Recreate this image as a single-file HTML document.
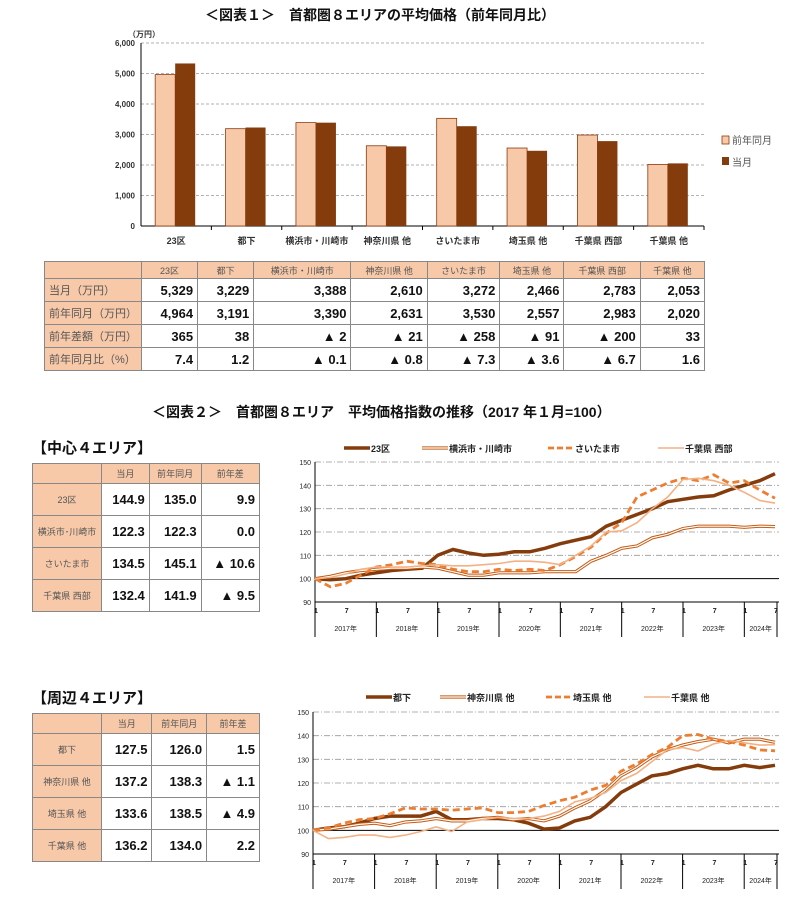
<!DOCTYPE html>
<html><head><meta charset="utf-8">
<style>
body{margin:0;width:790px;height:903px;background:#fff;font-family:"Liberation Sans","Noto Sans CJK JP",sans-serif;position:relative;overflow:hidden}
.abs{position:absolute}
.title{font-size:14px;font-weight:bold;color:#111;white-space:nowrap}
table{border-collapse:collapse;position:absolute;font-family:"Liberation Sans","Noto Sans CJK JP",sans-serif}
td{border:1px solid #888;padding:0 4px;white-space:nowrap}
.h{background:#f7c9a9;color:#555;font-size:9px;text-align:center}
.n{text-align:right;font-weight:bold;color:#111}
</style></head><body>
<div class="abs title" style="left:205px;top:5px">＜図表１＞　首都圏８エリアの平均価格（前年同月比）</div>
<svg class="abs" style="left:0;top:0" width="790" height="260" id="bar"></svg>
<table style="left:44px;top:261px;width:661px">
<tr style="height:17px"><td class="h" style="width:88px"></td><td class="h">23区</td><td class="h">都下</td><td class="h">横浜市・川崎市</td><td class="h">神奈川県 他</td><td class="h">さいたま市</td><td class="h">埼玉県 他</td><td class="h">千葉県 西部</td><td class="h">千葉県 他</td></tr>
<tr style="height:23px;font-size:13px"><td class="h" style="text-align:left;font-size:11px">当月（万円）</td><td class="n">5,329</td><td class="n">3,229</td><td class="n">3,388</td><td class="n">2,610</td><td class="n">3,272</td><td class="n">2,466</td><td class="n">2,783</td><td class="n">2,053</td></tr>
<tr style="height:23px;font-size:13px"><td class="h" style="text-align:left;font-size:11px">前年同月（万円）</td><td class="n">4,964</td><td class="n">3,191</td><td class="n">3,390</td><td class="n">2,631</td><td class="n">3,530</td><td class="n">2,557</td><td class="n">2,983</td><td class="n">2,020</td></tr>
<tr style="height:23px;font-size:13px"><td class="h" style="text-align:left;font-size:11px">前年差額（万円）</td><td class="n">365</td><td class="n">38</td><td class="n">▲ 2</td><td class="n">▲ 21</td><td class="n">▲ 258</td><td class="n">▲ 91</td><td class="n">▲ 200</td><td class="n">33</td></tr>
<tr style="height:23px;font-size:13px"><td class="h" style="text-align:left;font-size:11px">前年同月比（%）</td><td class="n">7.4</td><td class="n">1.2</td><td class="n">▲ 0.1</td><td class="n">▲ 0.8</td><td class="n">▲ 7.3</td><td class="n">▲ 3.6</td><td class="n">▲ 6.7</td><td class="n">1.6</td></tr>
</table>
<div class="abs title" style="left:152px;top:402px">＜図表２＞　首都圏８エリア　平均価格指数の推移（2017 年１月=100）</div>
<div class="abs title" style="left:32px;top:437px;font-size:15px">【中心４エリア】</div>
<table style="left:32px;top:463px;width:228px">
<tr style="height:20px"><td class="h" style="width:60px"></td><td class="h">当月</td><td class="h">前年同月</td><td class="h">前年差</td></tr>
<tr style="height:32px;font-size:13px"><td class="h">23区</td><td class="n">144.9</td><td class="n">135.0</td><td class="n">9.9</td></tr>
<tr style="height:32px;font-size:13px"><td class="h">横浜市･川崎市</td><td class="n">122.3</td><td class="n">122.3</td><td class="n">0.0</td></tr>
<tr style="height:32px;font-size:13px"><td class="h">さいたま市</td><td class="n">134.5</td><td class="n">145.1</td><td class="n">▲ 10.6</td></tr>
<tr style="height:32px;font-size:13px"><td class="h">千葉県 西部</td><td class="n">132.4</td><td class="n">141.9</td><td class="n">▲ 9.5</td></tr>
</table>
<div class="abs title" style="left:32px;top:687px;font-size:15px">【周辺４エリア】</div>
<table style="left:32px;top:713px;width:228px">
<tr style="height:20px"><td class="h" style="width:60px"></td><td class="h">当月</td><td class="h">前年同月</td><td class="h">前年差</td></tr>
<tr style="height:32px;font-size:13px"><td class="h">都下</td><td class="n">127.5</td><td class="n">126.0</td><td class="n">1.5</td></tr>
<tr style="height:32px;font-size:13px"><td class="h">神奈川県 他</td><td class="n">137.2</td><td class="n">138.3</td><td class="n">▲ 1.1</td></tr>
<tr style="height:32px;font-size:13px"><td class="h">埼玉県 他</td><td class="n">133.6</td><td class="n">138.5</td><td class="n">▲ 4.9</td></tr>
<tr style="height:32px;font-size:13px"><td class="h">千葉県 他</td><td class="n">136.2</td><td class="n">134.0</td><td class="n">2.2</td></tr>
</table>
<svg class="abs" style="left:0;top:0" width="790" height="903" id="lines"></svg>
<script>
// ---- bar chart data ----
const barCategories=["23区","都下","横浜市・川崎市","神奈川県 他","さいたま市","埼玉県 他","千葉県 西部","千葉県 他"];
const prevYear=[4964,3191,3390,2631,3530,2557,2983,2020];
const current=[5329,3229,3388,2610,3272,2466,2783,2053];
const barTicks=[0,1000,2000,3000,4000,5000,6000];
const barTickLabels=["0","1,000","2,000","3,000","4,000","5,000","6,000"];
// ---- line chart data (every 3 months, Jan 2017 – Jul 2024) ----
const monthStep=3;
const yearLabels=["2017年","2018年","2019年","2020年","2021年","2022年","2023年","2024年"];
const lineTicks=[90,100,110,120,130,140,150];
const centerNames=["23区","横浜市・川崎市","さいたま市","千葉県 西部"];
const s23ku=[100,99.5,100,101.5,102.5,103.5,104,104.5,110,112.5,111,110,110.5,111.5,111.5,113,115,116.5,118,122.5,125,127.5,130,133,134,135,135.5,138,140,142,145];
const sYokohama=[100,101,102.5,103.5,104,104.5,104.5,105,104.5,103,101.5,101.5,102.5,102.5,102.5,103,103,103,107.5,110,113,114,117.5,119,121.5,122.5,122.5,122.5,122,122.5,122.3];
const sSaitamaCity=[100,96.5,98,101.5,105,106,107.5,106.5,106,104,103,103,104,103.5,104,103.5,106,109.5,113.5,119.5,124,135,138,141,143,142,144.5,141,142,138,134.5];
const sChibaWest=[100,100.5,102,104,105,105,105,105.5,106,105.5,105.5,106,106.5,107.5,107.5,107,106,110,114,120,120.5,124,130,135,142.5,143,142,140,137,133.5,132.4];
const outerNames=["都下","神奈川県 他","埼玉県 他","千葉県 他"];
const sToka=[100,101,101.5,103,105,106,106,106,108,104.5,104.5,105,105,104.5,103,100.5,101,104,105.5,110,116,119.5,123,124,126,127.5,126,126,127.5,126.5,127.5];
const sKanagawa=[100,100.5,101.5,102.5,103,102,103.5,104,105,104,104,105,105.5,104.5,105,104,106,109.5,112.5,117,123,126.5,131,134,136,137.5,138.5,137,138.5,138.5,137.2];
const sSaitamaOther=[100,101,103,104.5,105,107,109.5,109,109,108.5,109,109.5,107.5,107.5,108,110.5,112.5,114,117,119,125,128,132,135,140,140.5,138.5,137.5,136,134,133.6];
const sChibaOther=[100,96.5,97,98,98,97,98,99.5,101.5,99.5,103.5,104.5,105.5,105,105,106,108,112,113.5,116,121,124,129,134,135,133.5,136.5,138,137,136,136.2];

const NS="http://www.w3.org/2000/svg";
function mk(parent,tag,attrs,txt){const e=document.createElementNS(NS,tag);for(const k in attrs)e.setAttribute(k,attrs[k]);if(txt!==undefined)e.textContent=txt;parent.appendChild(e);return e;}

// bar chart
(function(){
 const svg=document.getElementById('bar');
 const x0=141,x1=704,y0=226,y1=43,maxV=6000;
 const yS=v=>y0-(v/maxV)*(y0-y1);
 const cw=(x1-x0)/barCategories.length;
 let t=mk(svg,'text',{x:128,y:37,'font-size':8,'font-weight':'bold',fill:'#333'},'（万円）');
 
 barTicks.forEach((v,i)=>{
  if(v>0){const g=mk(svg,'line',{x1:x0,x2:x1,y1:yS(v),y2:yS(v),stroke:'#999','stroke-dasharray':'3,2','stroke-width':0.8});}
  const l=mk(svg,'text',{x:x0-6,y:yS(v)+3,'font-size':8,'text-anchor':'end',fill:'#333','font-weight':'bold'},barTickLabels[i]);
  
 });
 mk(svg,'line',{x1:x0,x2:x0,y1:y1,y2:y0,stroke:'#000'});
 mk(svg,'line',{x1:x0,x2:x1,y1:y0,y2:y0,stroke:'#000'});
 barCategories.forEach((c,i)=>{
  const cx=x0+cw*(i+0.5);
  const bw=20;
  const b1=mk(svg,'rect',{x:cx-bw-1,y:yS(prevYear[i]),width:bw,height:y0-yS(prevYear[i]),fill:'#f8c9a8',stroke:'#8b3a0e','stroke-width':0.8});
  
  const b2=mk(svg,'rect',{x:cx-1,y:yS(current[i]),width:bw,height:y0-yS(current[i]),fill:'#843c0c'});
  
  mk(svg,'line',{x1:x0+cw*(i+1),x2:x0+cw*(i+1),y1:y0,y2:y0+4,stroke:'#000'});
  const l=mk(svg,'text',{x:cx,y:y0+18,'font-size':9,'text-anchor':'middle','font-weight':'bold',fill:'#333'},c);
  
 });
 let r=mk(svg,'rect',{x:722,y:136,width:7,height:8,fill:'#f8c9a8',stroke:'#8b3a0e','stroke-width':0.8});
 
 mk(svg,'text',{x:732,y:144,'font-size':10,fill:'#555'},'前年同月');
 r=mk(svg,'rect',{x:722,y:157,width:7,height:8,fill:'#843c0c'});
 
 mk(svg,'text',{x:732,y:166,'font-size':10,fill:'#555'},'当月');
})();

// line charts
const styles=[
 {type:'thick',color:'#843c0c'},
 {type:'double',color:'#c55a11'},
 {type:'dash',color:'#ed7d31'},
 {type:'thin',color:'#f4b183'}
];
function drawLine(svg,cfg,names,seriesList,tag){
 const {x0,x1,yTop,yBot,legendY}=cfg;
 const nMonths=(seriesList[0].length-1)*monthStep;
 const xS=m=>x0+(m/nMonths)*(x1-x0);
 const yS=v=>yBot-(v-90)/60*(yBot-yTop);
 lineTicks.forEach(v=>{
  if(v>90&&v!==100){const g=mk(svg,'line',{x1:x0,x2:x1+4,y1:yS(v),y2:yS(v),stroke:'#999','stroke-dasharray':'6,2,1,2','stroke-width':0.8});}
  const l=mk(svg,'text',{x:x0-4,y:yS(v)+3,'font-size':7,'text-anchor':'end',fill:'#222'},String(v));
  
 });
 mk(svg,'line',{x1:x0,x2:x1+4,y1:yS(100),y2:yS(100),stroke:'#000','stroke-width':1});
 mk(svg,'line',{x1:x0,x2:x0,y1:yTop,y2:yBot,stroke:'#000'});
 mk(svg,'line',{x1:x0,x2:x1+4,y1:yBot,y2:yBot,stroke:'#000'});
 for(let m=0;m<=nMonths;m+=6){
  const lb=mk(svg,'text',{x:xS(m)+1,y:yBot+11,'font-size':7,'text-anchor':'middle','font-weight':'bold',fill:'#222'},(m%12===0)?'1':'7');
  
 }
 yearLabels.forEach((y,i)=>{
  const xa=xS(i*12);const xb=Math.min(xS((i+1)*12),x1+2);
  mk(svg,'line',{x1:xa,x2:xa,y1:yBot,y2:yBot+35,stroke:'#000'});
  const lb=mk(svg,'text',{x:(xa+xb)/2,y:yBot+29,'font-size':7,'text-anchor':'middle',fill:'#222'},y);
  
 });
 mk(svg,'line',{x1:x1+2,x2:x1+2,y1:yBot,y2:yBot+35,stroke:'#000'});
 seriesList.forEach((s,i)=>{
  const d=s.map((v,k)=>(k?'L':'M')+xS(k*monthStep).toFixed(1)+','+yS(v).toFixed(1)).join(' ');
  const st=styles[i];
  let p;
  if(st.type==='double'){
   mk(svg,'path',{d,fill:'none',stroke:st.color,'stroke-width':3.2});
   p=mk(svg,'path',{d,fill:'none',stroke:'#fff','stroke-width':1.2});
  }else if(st.type==='thick'){p=mk(svg,'path',{d,fill:'none',stroke:st.color,'stroke-width':3.5});}
  else if(st.type==='dash'){p=mk(svg,'path',{d,fill:'none',stroke:st.color,'stroke-width':2.8,'stroke-dasharray':'7,4'});}
  else {p=mk(svg,'path',{d,fill:'none',stroke:st.color,'stroke-width':1.6});}
  
  
  const lx=cfg.legendX[i];
  if(st.type==='double'){mk(svg,'line',{x1:lx,x2:lx+26,y1:legendY,y2:legendY,stroke:st.color,'stroke-width':3.2});mk(svg,'line',{x1:lx,x2:lx+26,y1:legendY,y2:legendY,stroke:'#fff','stroke-width':1.2});}
  else mk(svg,'line',{x1:lx,x2:lx+26,y1:legendY,y2:legendY,stroke:st.color,'stroke-width':st.type==='thick'?3.5:st.type==='dash'?2.8:1.6,'stroke-dasharray':st.type==='dash'?'6,3':'none'});
  const lt=mk(svg,'text',{x:lx+27,y:legendY+4,'font-size':9,'font-weight':'bold',fill:'#222'},names[i]);
  
 });
}
const lsvg=document.getElementById('lines');
drawLine(lsvg,{x0:315,x1:775,yTop:462,yBot:602,legendY:448,legendX:[344,422,548,658]},centerNames,[s23ku,sYokohama,sSaitamaCity,sChibaWest],'center');
drawLine(lsvg,{x0:313,x1:775,yTop:712,yBot:854,legendY:697,legendX:[366,440,546,644]},outerNames,[sToka,sKanagawa,sSaitamaOther,sChibaOther],'outer');
</script>
</body></html>
